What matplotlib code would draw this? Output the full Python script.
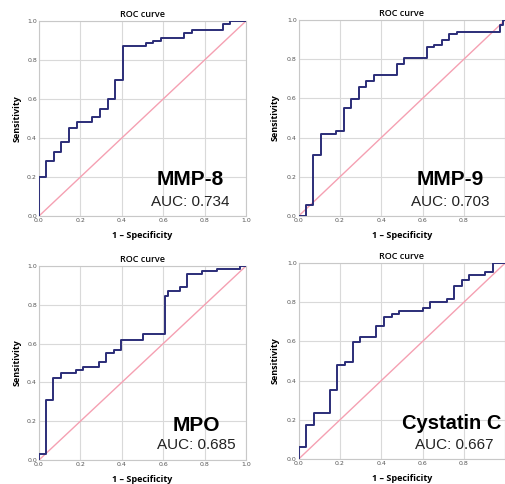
import matplotlib
matplotlib.use("Agg")
import matplotlib.pyplot as plt

# ---- data ----
names = ["MMP-8", "MMP-9", "MPO", "Cystatin C"]
auc_labels = ["AUC: 0.734", "AUC: 0.703", "AUC: 0.685", "AUC: 0.667"]

mmp8_fpr = [0.034, 0.071, 0.106, 0.147, 0.182, 0.256, 0.295, 0.332, 0.369, 0.407,
            0.517, 0.552, 0.589, 0.700, 0.737, 0.887, 0.923, 1.0]
mmp8_tpr = [0.20, 0.28, 0.33, 0.38, 0.45, 0.48, 0.51, 0.55, 0.60, 0.70,
            0.87, 0.885, 0.90, 0.915, 0.94, 0.955, 0.985, 1.0]

mmp9_fpr = [0.035, 0.071, 0.106, 0.180, 0.218, 0.253, 0.290, 0.327, 0.365, 0.474,
            0.511, 0.619, 0.656, 0.692, 0.729, 0.766, 0.974, 0.99, 1.0]
mmp9_tpr = [0.0, 0.055, 0.31, 0.42, 0.435, 0.55, 0.595, 0.66, 0.69, 0.72,
            0.775, 0.805, 0.86, 0.875, 0.90, 0.93, 0.94, 0.975, 1.0]

mpo_fpr = [0.034, 0.069, 0.106, 0.179, 0.214, 0.288, 0.324, 0.361, 0.395, 0.504,
           0.609, 0.625, 0.681, 0.717, 0.789, 0.858, 0.971, 1.0]
mpo_tpr = [0.03, 0.31, 0.425, 0.45, 0.465, 0.48, 0.505, 0.55, 0.565, 0.62,
           0.65, 0.845, 0.87, 0.89, 0.96, 0.975, 0.985, 1.0]

cys_fpr = [0.035, 0.073, 0.150, 0.185, 0.224, 0.261, 0.298, 0.374, 0.411, 0.450,
           0.487, 0.603, 0.637, 0.716, 0.752, 0.789, 0.826, 0.902, 0.942, 1.0]
cys_tpr = [0.06, 0.175, 0.235, 0.35, 0.48, 0.495, 0.595, 0.625, 0.68, 0.725,
           0.74, 0.755, 0.77, 0.80, 0.815, 0.885, 0.915, 0.94, 0.955, 1.0]

tick_vals = [0.0, 0.2, 0.4, 0.6, 0.8, 1.0]
tick_labels = ["0.0", "0.2", "0.4", "0.6", "0.8", "1.0"]

series = [(mmp8_fpr, mmp8_tpr), (mmp9_fpr, mmp9_tpr), (mpo_fpr, mpo_tpr), (cys_fpr, cys_tpr)]

# ---- layout (pixel boxes: left, top, width, height) ----
W, H = 505, 484
boxes = [(39, 21, 207, 195), (298.7, 20, 206.5, 196), (39, 266, 207, 194), (298.7, 263, 206.5, 196)]
label_pos = [(0.73, 0.185, 0.07), (0.733, 0.184, 0.07), (0.76, 0.18, 0.076), (0.743, 0.18, 0.073)]
name_sizes = [15, 15, 15, 14.5]
right_cut = [False, True, False, True]

fig = plt.figure(figsize=(W / 100, H / 100), dpi=100)
navy = "#2b2d78"
pink = "#f5a0b2"
axis_font = ["Open Sans", "DejaVu Sans"]
big_font = ["Liberation Sans", "DejaVu Sans"]

for i, (l, t, w, h) in enumerate(boxes):
    ax = fig.add_axes([l / W, (H - t - h) / H, w / W, h / H])
    fpr, tpr = series[i]
    ax.plot([0, 1], [0, 1], color=pink, lw=1.0, zorder=2)
    ax.step([0.0] + fpr, [0.0] + tpr, where="pre", color=navy, lw=1.4, zorder=3)
    ax.set_xlim(0, 1)
    ax.set_ylim(0, 1)
    ax.set_xticks(tick_vals)
    xl = list(tick_labels)
    if right_cut[i]:
        xl[-1] = ""
    ax.set_xticklabels(xl)
    ax.set_yticks(tick_vals)
    ax.set_yticklabels(tick_labels)
    ax.tick_params(length=0, labelsize=4.5, labelcolor="#555555", pad=1.5)
    ax.grid(True, color="#d9d9d9", lw=0.8)
    ax.set_axisbelow(True)
    for s in ax.spines.values():
        s.set_color("#c8c8c8")
        s.set_linewidth(0.8)
    ax.set_title("ROC curve", fontsize=6.5, fontweight="semibold", family=axis_font, pad=3)
    ax.set_xlabel("1 \u2013 Specificity", fontsize=6.5, fontweight="bold", family=axis_font, labelpad=6)
    ax.set_ylabel("Sensitivity", fontsize=6.5, fontweight="bold", family=axis_font,
                  labelpad=4 if not right_cut[i] else 5)
    cx, ny, ay = label_pos[i]
    ax.text(cx, ny, names[i], fontsize=name_sizes[i], fontweight="bold", family=big_font,
            ha="center", va="center", zorder=5)
    ax.text(0.752 if i == 3 else cx, ay, auc_labels[i], fontsize=11, family=big_font, color="#222222",
            ha="center", va="center", zorder=5)

fig.savefig("out.png", dpi=100)
